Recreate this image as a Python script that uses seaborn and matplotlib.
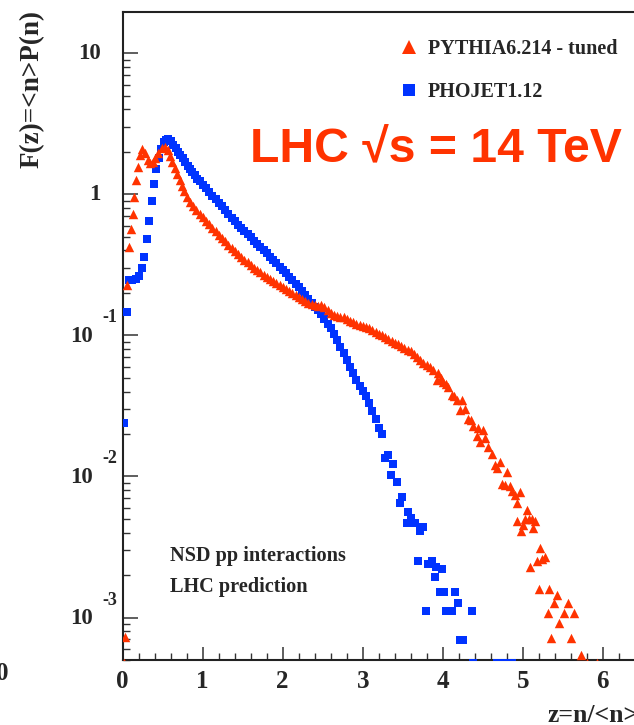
import numpy as np
import pandas as pd
import matplotlib
matplotlib.use("Agg")
import matplotlib.pyplot as plt
import seaborn as sns
from matplotlib.lines import Line2D
from matplotlib.ticker import FixedLocator, MultipleLocator, NullFormatter
import matplotlib.transforms as mtrans

# ---------------- data ----------------
series_names = ["PYTHIA6.214 - tuned", "PHOJET1.12"]

pythia_z = [0.01, 0.03, 0.05, 0.08, 0.10, 0.125, 0.145, 0.165, 0.19, 0.22, 0.245, 0.28, 0.31, 0.34,
            0.375, 0.40, 0.445, 0.49, 0.53, 0.56, 0.59, 0.62, 0.65, 0.68, 0.71, 0.74, 0.77, 0.80,
            0.84, 0.88, 0.92, 0.96, 1.00, 1.04, 1.08, 1.12, 1.16, 1.20, 1.24, 1.28, 1.32, 1.36,
            1.40, 1.44, 1.48, 1.52, 1.56, 1.60, 1.64, 1.68, 1.72, 1.76, 1.80, 1.84, 1.88, 1.92,
            1.96, 2.00, 2.04, 2.08, 2.12, 2.16, 2.20, 2.24, 2.28, 2.32, 2.36, 2.40, 2.44, 2.48,
            2.52, 2.56, 2.60, 2.64, 2.68, 2.72, 2.76, 2.80, 2.84, 2.88, 2.92, 2.96, 3.00, 3.04,
            3.08, 3.12, 3.16, 3.20, 3.24, 3.28, 3.32, 3.36, 3.40, 3.44, 3.48, 3.52, 3.56, 3.60,
            3.64, 3.68, 3.72, 3.76, 3.80, 3.84, 3.88, 3.925, 3.945, 3.98, 4.01, 4.04, 4.07, 4.11,
            4.14, 4.175, 4.22, 4.24, 4.28, 4.32, 4.35, 4.38, 4.425, 4.445, 4.47, 4.51, 4.53, 4.57,
            4.61, 4.65, 4.675, 4.72, 4.74, 4.78, 4.81, 4.84, 4.86, 4.90, 4.925, 4.93, 4.97, 4.98,
            5.00, 5.03, 5.05, 5.08, 5.09, 5.11, 5.13, 5.15, 5.175, 5.20, 5.22, 5.24, 5.28, 5.31,
            5.33, 5.35, 5.39, 5.425, 5.455, 5.52, 5.57, 5.60, 5.64, 5.725, 5.80, 5.925]
pythia_f = [0.00048, 0.00073, 0.228, 0.42, 0.565, 0.73, 0.96, 1.26, 1.55, 1.90, 2.09, 1.97, 1.75, 1.66,
            1.70, 1.80, 1.95, 2.12, 2.15, 2.06, 1.88, 1.70, 1.54, 1.40, 1.27, 1.15, 1.05, 0.96,
            0.88, 0.82, 0.77, 0.73, 0.69, 0.65, 0.615, 0.58, 0.545, 0.515, 0.49, 0.465, 0.44, 0.415,
            0.395, 0.38, 0.36, 0.345, 0.33, 0.315, 0.30, 0.29, 0.28, 0.268, 0.26, 0.25, 0.242, 0.235,
            0.227, 0.22, 0.213, 0.206, 0.20, 0.193, 0.186, 0.18, 0.175, 0.171, 0.166, 0.163, 0.162, 0.163,
            0.160, 0.152, 0.145, 0.140, 0.138, 0.136, 0.134, 0.131, 0.127, 0.124, 0.121, 0.119, 0.116, 0.114,
            0.112, 0.109, 0.106, 0.103, 0.100, 0.097, 0.094, 0.091, 0.089, 0.087, 0.084, 0.081, 0.079, 0.077,
            0.074, 0.070, 0.067, 0.064, 0.062, 0.060, 0.057, 0.048, 0.054, 0.050, 0.047, 0.045, 0.043, 0.038,
            0.037, 0.0347, 0.0295, 0.0347, 0.030, 0.0257, 0.025, 0.0229, 0.0195, 0.0219, 0.0176, 0.0214, 0.0186, 0.0162,
            0.0145, 0.012, 0.0115, 0.0126, 0.0089, 0.0087, 0.0107, 0.0085, 0.0079, 0.0074, 0.0065, 0.0048, 0.0078, 0.0041,
            0.0045, 0.0050, 0.0058, 0.0050, 0.0023, 0.0050, 0.0043, 0.0048, 0.0025, 0.0016, 0.0031, 0.0026, 0.0027, 0.00107,
            0.0016, 0.00072, 0.00126, 0.00144, 0.00091, 0.00107, 0.00126, 0.00072, 0.00107, 0.00054, 0.00048, 0.00048]

phojet_z = [0.02, 0.05, 0.08, 0.12, 0.16, 0.20, 0.24, 0.27, 0.30, 0.33, 0.36, 0.39, 0.42, 0.45, 0.48,
            0.51, 0.54, 0.57, 0.60, 0.63, 0.66, 0.69, 0.72, 0.75, 0.78, 0.81, 0.84, 0.87, 0.90, 0.93,
            0.96, 1.00, 1.04, 1.08, 1.12, 1.16, 1.20, 1.24, 1.28, 1.32, 1.36, 1.40, 1.44, 1.48, 1.52,
            1.56, 1.60, 1.64, 1.68, 1.72, 1.76, 1.80, 1.84, 1.88, 1.92, 1.96, 2.00, 2.04, 2.08, 2.12,
            2.16, 2.20, 2.24, 2.28, 2.32, 2.36, 2.40, 2.44, 2.48, 2.52, 2.56, 2.60, 2.64, 2.68, 2.72,
            2.76, 2.80, 2.84, 2.88, 2.92, 2.96, 3.00, 3.04, 3.08, 3.12, 3.16, 3.20, 3.24,
            3.28, 3.32, 3.38, 3.35, 3.43, 3.49, 3.46, 3.57, 3.60, 3.55, 3.65, 3.71, 3.76, 3.69, 3.81,
            3.86, 3.92, 3.99, 3.90, 3.97, 4.02, 4.15, 3.79, 4.04, 4.12, 4.19, 4.36, 4.21, 4.26, 4.38,
            4.68, 4.74, 4.80, 4.86]
phojet_f = [0.024, 0.146, 0.245, 0.248, 0.251, 0.265, 0.30, 0.36, 0.48, 0.65, 0.90, 1.19, 1.50, 1.80, 2.10,
            2.33, 2.43, 2.45, 2.38, 2.25, 2.12, 2.00, 1.90, 1.80, 1.70, 1.60, 1.52, 1.44, 1.36, 1.29,
            1.24, 1.17, 1.10, 1.03, 0.97, 0.92, 0.87, 0.82, 0.77, 0.72, 0.68, 0.645, 0.61, 0.58, 0.55,
            0.52, 0.495, 0.47, 0.445, 0.425, 0.40, 0.382, 0.362, 0.343, 0.325, 0.307, 0.29, 0.275, 0.26, 0.245,
            0.232, 0.22, 0.207, 0.192, 0.18, 0.17, 0.16, 0.152, 0.142, 0.13, 0.121, 0.112, 0.102, 0.092, 0.083,
            0.075, 0.067, 0.060, 0.054, 0.048, 0.044, 0.0405, 0.037, 0.033, 0.029, 0.0255, 0.022, 0.020,
            0.0135, 0.0141, 0.0123, 0.0102, 0.0091, 0.0072, 0.0065, 0.0056, 0.0051, 0.0047, 0.0047, 0.0041, 0.0044, 0.0025, 0.0024,
            0.0025, 0.0023, 0.0022, 0.00195, 0.00151, 0.00151, 0.00151, 0.00111, 0.00111, 0.00111, 0.00126, 0.00111, 0.00069, 0.00069, 0.00048,
            0.00048, 0.00048, 0.00048, 0.00048]

x_ticks = [0, 1, 2, 3, 4, 5, 6]
x_tick_labels = ["0", "1", "2", "3", "4", "5", "6"]
y_ticks = [1e-3, 1e-2, 1e-1, 1, 10]
y_tick_base = ["10", "10", "10", "1", "10"]
y_tick_exp = ["-3", "-2", "-1", "", ""]

# ---------------- styling ----------------
RED = "#FF3300"
BLUE = "#0033FF"
sns.set_style("ticks")
plt.rcParams["font.family"] = ["Liberation Serif", "DejaVu Serif"]
plt.rcParams["font.weight"] = "bold"

W, H = 634, 725
fig = plt.figure(figsize=(W / 100, H / 100), dpi=100)
ax_l, ax_r, ax_t, ax_b = 122.7, 642.7, 12.0, 660.0
ax = fig.add_axes([ax_l / W, 1 - ax_b / H, (ax_r - ax_l) / W, (ax_b - ax_t) / H])

df = pd.concat([
    pd.DataFrame({"z": pythia_z, "F": pythia_f, "model": series_names[0]}),
    pd.DataFrame({"z": phojet_z, "F": phojet_f, "model": series_names[1]}),
], ignore_index=True)

sns.scatterplot(data=df[df.model == series_names[1]], x="z", y="F", marker="s", color=BLUE,
                s=34, linewidth=0, ax=ax, legend=False, zorder=3)
sns.scatterplot(data=df[df.model == series_names[0]], x="z", y="F", marker="^", color=RED,
                s=46, linewidth=0, ax=ax, legend=False, zorder=4)

ax.set_yscale("log")
ax.set_xlim(0, 6.5)
ax.set_ylim(5.0e-4, 19.6)

for side in ["left", "bottom", "top"]:
    ax.spines[side].set_linewidth(1.5)
    ax.spines[side].set_color("#222222")
ax.spines["right"].set_visible(False)

ax.xaxis.set_major_locator(FixedLocator(x_ticks))
ax.xaxis.set_minor_locator(MultipleLocator(0.2))
ax.set_xticklabels(x_tick_labels)
ax.yaxis.set_major_locator(FixedLocator(y_ticks))
minor_y = [m * 10.0 ** e for e in range(-4, 2) for m in range(2, 10)]
ax.yaxis.set_minor_locator(FixedLocator(minor_y))
ax.yaxis.set_major_formatter(NullFormatter())
ax.yaxis.set_minor_formatter(NullFormatter())

ax.tick_params(axis="x", which="major", direction="in", length=9.5, width=1.1, color="#333333",
               labelsize=18, pad=7, top=False)
ax.tick_params(axis="x", which="minor", direction="in", length=5, width=1.0, color="#333333", top=False)
ax.tick_params(axis="y", which="major", direction="in", length=11, width=1.1, color="#333333", right=False)
ax.tick_params(axis="y", which="minor", direction="in", length=5, width=1.0, color="#333333", right=False)
for lab in ax.get_xticklabels():
    lab.set_fontweight("bold")

ax.set_xlabel("")
ax.set_ylabel("")

# y tick labels as 10 with superscript exponents
ytrans = ax.get_yaxis_transform()
for val, base, ex in zip(y_ticks, y_tick_base, y_tick_exp):
    if ex:
        t1 = ytrans + mtrans.ScaledTranslation(-30.0 / 100, -1.0 / 100, fig.dpi_scale_trans)
        ax.text(0, val, base, transform=t1, ha="right", va="center", fontsize=16.5, fontweight="bold")
        t2 = ytrans + mtrans.ScaledTranslation(-5.5 / 100, 17.5 / 100, fig.dpi_scale_trans)
        ax.text(0, val, ex, transform=t2, ha="right", va="center", fontsize=13, fontweight="bold")
    else:
        t1 = ytrans + mtrans.ScaledTranslation(-22.0 / 100, -0.5 / 100, fig.dpi_scale_trans)
        ax.text(0, val, base, transform=t1, ha="right", va="center", fontsize=16.5, fontweight="bold")

# axis titles (ROOT style placement)
fig.text(32 / W, 1 - 10 / H, "F(z)=<n>P(n)", rotation=90, ha="center", va="top",
         fontsize=19.5, fontweight="bold")
fig.text(548 / W, 1 - 715 / H, "z=n/<n>", ha="left", va="center", fontsize=18.5, fontweight="bold")
fig.text(8.5 / W, 1 - 674 / H, "0", ha="right", va="center", fontsize=18, fontweight="bold")

# legend
handles = [Line2D([], [], ls="none", marker="^", color=RED, markersize=10.5, markeredgewidth=0),
           Line2D([], [], ls="none", marker="s", color=BLUE, markersize=9.3, markeredgewidth=0)]
ax.legend(handles, series_names, loc="upper left", bbox_to_anchor=(399 / W, 1 - 39.5 / H),
          bbox_transform=fig.transFigure, frameon=False, borderpad=0, borderaxespad=0,
          handlelength=1.0, handletextpad=0.42, labelspacing=1.1,
          prop={"family": ["Liberation Serif", "DejaVu Serif"], "weight": "bold", "size": 14.5})

# annotations
fig.text(250 / W, 1 - 162 / H, "LHC \u221As = 14 TeV", ha="left", va="baseline", color=RED,
         fontsize=34.7, fontweight="bold", family=["Liberation Sans", "DejaVu Sans"])
fig.text(170.5 / W, 1 - 556 / H, "NSD pp interactions", ha="left", va="center", fontsize=14.6,
         fontweight="bold")
fig.text(170.5 / W, 1 - 587 / H, "LHC prediction", ha="left", va="center", fontsize=14.6,
         fontweight="bold")

fig.savefig("out.png", dpi=100)
